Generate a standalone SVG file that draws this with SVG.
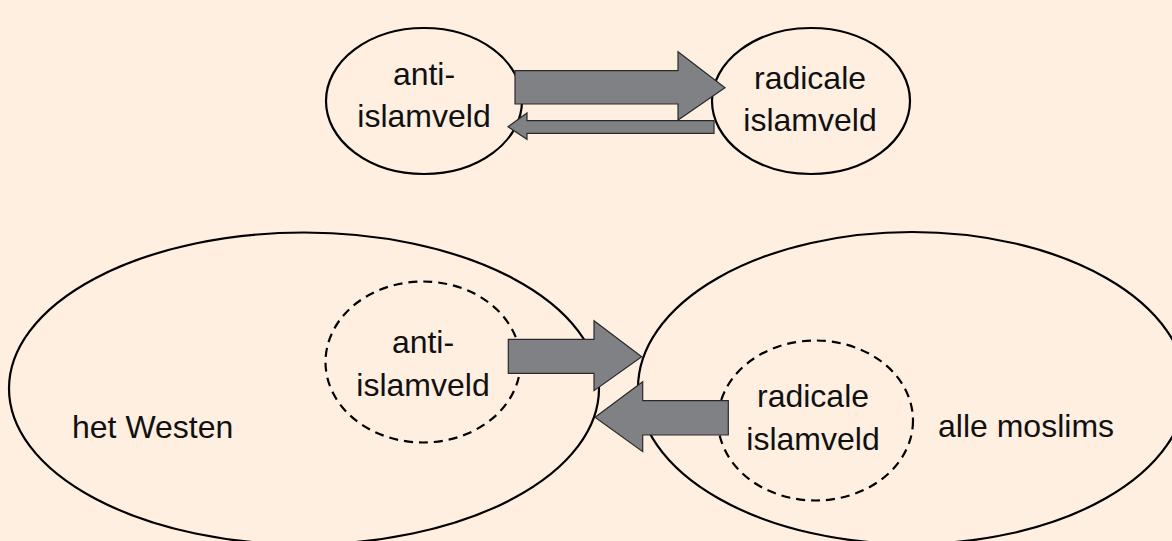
<svg xmlns="http://www.w3.org/2000/svg" width="1172" height="541" viewBox="0 0 1172 541">
  <style>
    .bg { fill: #FEEFE1; }
    .ell { fill: none; stroke: #000; stroke-width: 2.2; }
    .dash { fill: none; stroke: #000; stroke-width: 2.2; stroke-dasharray: 9 6; }
    .arrow { fill: #808185; stroke: #2a2a2a; stroke-width: 1.2; stroke-linejoin: miter; }
    .lbl { font-family: "Liberation Sans", Arial, sans-serif; font-size: 32px; fill: #111; text-anchor: middle; }
    .lblL { font-family: "Liberation Sans", Arial, sans-serif; font-size: 32px; fill: #111; text-anchor: start; }
  </style>
  <rect class="bg" x="0" y="0" width="1172" height="541"/>

  <g id="top-anti">
    <ellipse class="ell" cx="424" cy="101" rx="98" ry="73"/>
    <text class="lbl" x="424" y="85">anti-</text>
    <text class="lbl" x="424" y="127">islamveld</text>
  </g>

  <g id="top-radicale">
    <ellipse class="ell" cx="811" cy="101" rx="99" ry="73"/>
    <text class="lbl" x="810" y="89">radicale</text>
    <text class="lbl" x="810" y="131">islamveld</text>
  </g>

  <g id="het-westen">
    <ellipse class="ell" cx="304" cy="388.5" rx="295" ry="156"/>
    <text class="lblL" x="72" y="438">het Westen</text>
  </g>

  <g id="bottom-anti">
    <ellipse class="dash" cx="423" cy="362" rx="97.5" ry="80.5"/>
    <text class="lbl" x="423" y="353">anti-</text>
    <text class="lbl" x="423" y="396">islamveld</text>
  </g>

  <g id="alle-moslims">
    <ellipse class="ell" cx="912" cy="388" rx="274" ry="156"/>
    <text class="lblL" x="938" y="437">alle moslims</text>
  </g>

  <g id="bottom-radicale">
    <ellipse class="dash" cx="815.5" cy="420.5" rx="97.5" ry="80"/>
    <text class="lbl" x="813" y="407">radicale</text>
    <text class="lbl" x="813" y="450">islamveld</text>
  </g>

  <g id="connectors">
    <polygon class="arrow" points="515,70.7 678,70.7 678,51.7 725,87.7 678,120 678,104 515,104"/>
    <polygon class="arrow" points="714,120.7 527,120.7 527,113 508,126.7 527,139.3 527,133.3 714,133.3"/>
    <polygon class="arrow" points="508.3,339.3 594,339.3 594,320.7 641.7,356.7 594,390.7 594,373.3 508.3,373.3"/>
    <polygon class="arrow" points="728.3,400.7 642.7,400.7 642.7,381.7 595,417.3 642.7,451.7 642.7,435 728.3,435"/>
  </g>
</svg>
